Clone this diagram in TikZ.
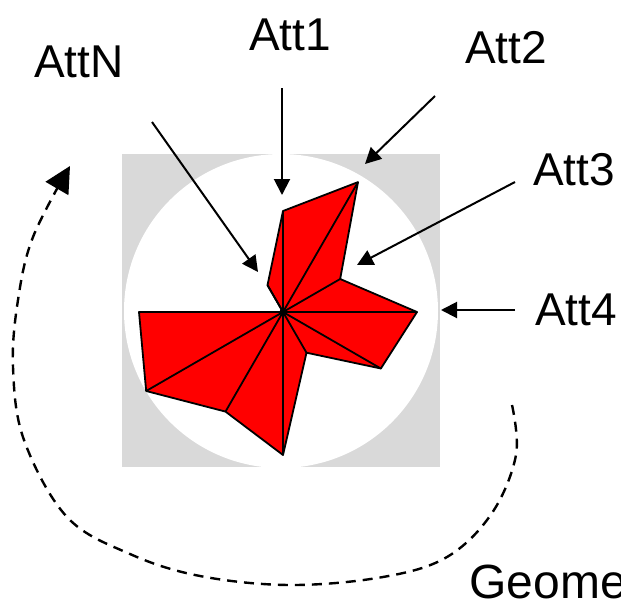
\documentclass[tikz,border=0pt]{standalone}
\usepackage{fontspec}
\setmainfont{Liberation Sans}
\usetikzlibrary{arrows.meta}

\begin{document}
\begin{tikzpicture}[
    x=0.5pt, y=-0.5pt,
    attlabel/.style={font=\fontsize{23}{28}\selectfont, anchor=base, inner sep=0pt},
    pointer/.style={-{Triangle[length=8pt,width=8pt]}, line width=1pt},
    cycleback/.style={dash pattern=on 5pt off 3.5pt, line width=1.2pt, -{Triangle[length=13pt,width=13pt]}},
    spoke/.style={line width=0.9pt, draw=black}
]
\useasboundingbox (0,0) rectangle (621,600);
\clip (0,0) rectangle (621,600);

% panel behind the chart
\fill[gray!30] (122,154) rectangle (440,467);
\fill[white] (281,311) circle (78.5pt);

% radar chart
\begin{scope}[shift={(141.5pt,-156pt)}, y=0.5pt]
\coordinate (centre) at (0,0);
\fill[red, draw=black, line width=0.9pt, line join=round]
    (90:101) -- (60:150) -- (30:66) -- (0:134) -- (-30:113) -- (-60:47)
    -- (-90:143) -- (-120:115) -- (-150:158) -- (180:144) -- (150:0)
    -- (120:31) -- cycle;
\foreach \ang/\rad in {90/101,60/150,30/66,0/134,-30/113,-60/47,-90/143,-120/115,-150/158,180/144,120/31}
    \draw[spoke] (centre) -- (\ang:\rad);
\fill (centre) circle (1.8pt);
\end{scope}

% labels
\node[attlabel] (attN) at (79,77) {AttN};
\node[attlabel] (att1) at (290,50) {Att1};
\node[attlabel] (att2) at (506,63) {Att2};
\node[attlabel] (att3) at (574,185) {Att3};
\node[attlabel] (att4) at (576,325) {Att4};
\node[attlabel, font=\fontsize{24}{29}\selectfont, anchor=base west] (geo) at (469,598) {Geome};

% pointers
\coordinate (attNs) at (152,122); \coordinate (attNt) at (258,272);
\coordinate (att1s) at (282,88);  \coordinate (att1t) at (282,195);
\coordinate (att2s) at (435,96);  \coordinate (att2t) at (365,164);
\coordinate (att3s) at (515,182); \coordinate (att3t) at (357,265);
\coordinate (att4s) at (515,310); \coordinate (att4t) at (441,310);
\draw[pointer] (attNs) -- (attNt);
\draw[pointer] (att1s) -- (att1t);
\draw[pointer] (att2s) -- (att2t);
\draw[pointer] (att3s) -- (att3t);
\draw[pointer] (att4s) -- (att4t);

% dashed loop
\coordinate (loopA) at (512,405);
\coordinate (loopB) at (70,166);
\draw[cycleback] plot[smooth, tension=0.6] coordinates {(loopA) (516,455) (492,513) (447,557) (383,577) (290,585) (200,576) (130,554) (67,517) (24,440) (13,367) (18,300) (33,237) (loopB)};
\end{tikzpicture}
\end{document}
